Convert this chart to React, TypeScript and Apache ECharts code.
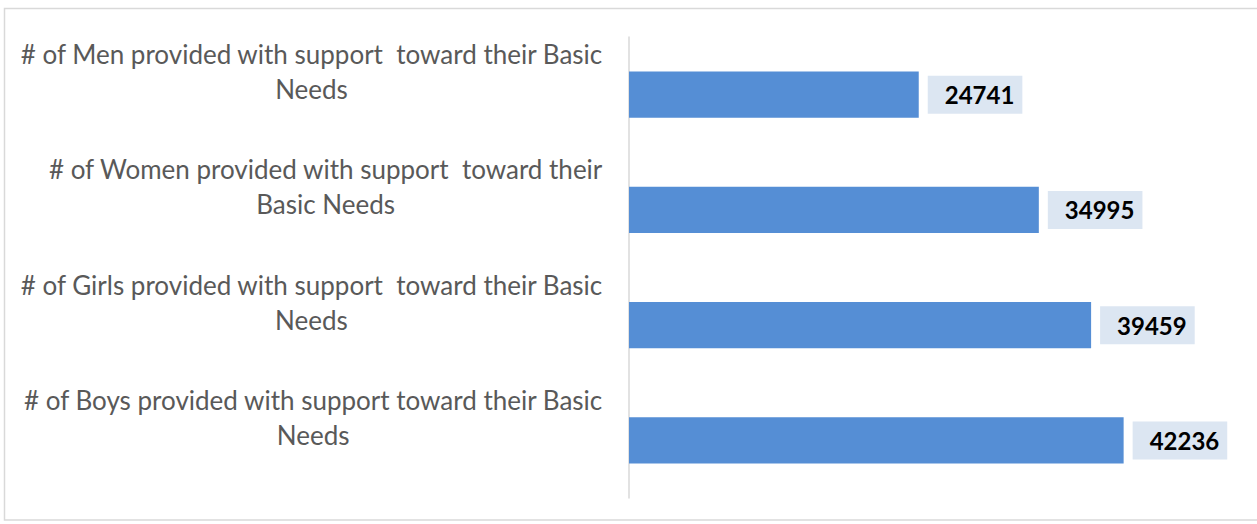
import React, { useEffect, useRef } from "react";
import * as echarts from "echarts";

const categories: string[] = [
  "# of Men provided with support  toward their Basic\nNeeds",
  "# of Women provided with support  toward their\nBasic Needs",
  "# of Girls provided with support  toward their Basic\nNeeds",
  "# of Boys provided with support toward their Basic\nNeeds",
];
const values: number[] = [24741, 34995, 39459, 42236];
const axisMax = 45000;

export default function App() {
  const ref = useRef<HTMLDivElement>(null);
  useEffect(() => {
    if (!ref.current) return;
    const chart = echarts.init(ref.current, undefined, { renderer: "svg" });
    chart.setOption({
      animation: false,
      backgroundColor: "#ffffff",
      graphic: [
        {
          type: "rect",
          shape: { x: 4.5, y: 8.5, width: 1260, height: 511.5 },
          style: { fill: "none", stroke: "#D9D9D9", lineWidth: 1.5 },
          silent: true,
        },
      ],
      grid: { left: 629, top: 37, width: 527, height: 461, containLabel: false },
      xAxis: {
        type: "value",
        min: 0,
        max: axisMax,
        show: false,
      },
      yAxis: {
        type: "category",
        inverse: true,
        data: categories,
        axisLine: { show: true, lineStyle: { color: "#D9D9D9", width: 1.5 } },
        axisTick: { show: false },
        axisLabel: {
          margin: 26,
          align: "right",
          padding: [0, 0, 46, 0],
          formatter: (v: string) =>
            v
              .split("\n")
              .map((l) => "{c|" + l + "}")
              .join("\n"),
          rich: {
            c: {
              align: "center",
              color: "#595959",
              fontFamily: "Lato",
              fontSize: 26,
              lineHeight: 35,
            },
          },
        },
      },
      series: [
        {
          type: "bar",
          data: values,
          barCategoryGap: "60%",
          itemStyle: { color: "#558ED5" },
          label: {
            show: true,
            position: "right",
            distance: 9,
            color: "#000000",
            fontFamily: "Lato",
            fontWeight: "bold",
            fontSize: 24,
            lineHeight: 24,
            backgroundColor: "#DCE6F2",
            padding: [7, 8, 7, 17],
          },
        },
      ],
    });
    return () => chart.dispose();
  }, []);
  return (
    <div
      ref={ref}
      style={{ position: "fixed", left: 0, top: 0, width: 1257, height: 524 }}
    />
  );
}
